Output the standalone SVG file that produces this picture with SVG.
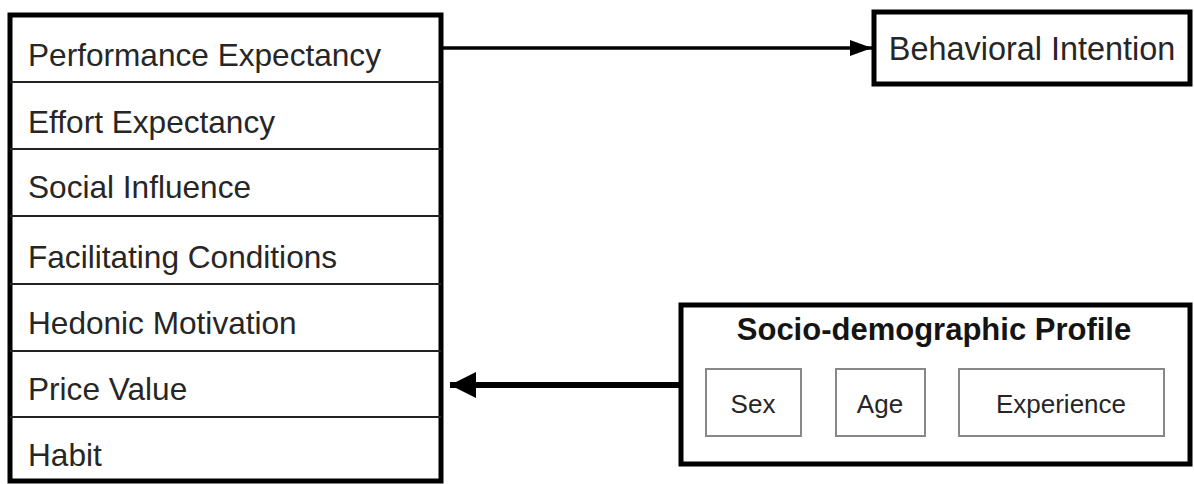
<svg xmlns="http://www.w3.org/2000/svg" width="1194" height="484" viewBox="0 0 1194 484">
<style>
.t{font-family:"Liberation Sans",Arial,sans-serif;font-size:31.6px;fill:#262626}
.bi{font-size:32.4px}
.b{font-family:"Liberation Sans",Arial,sans-serif;font-size:31px;font-weight:bold;fill:#141414;text-anchor:middle}
.s{font-family:"Liberation Sans",Arial,sans-serif;font-size:26px;fill:#262626;text-anchor:middle}
.box{fill:#fff;stroke:#000;stroke-width:5}
.div{stroke:#222;stroke-width:2}
.sub{fill:#fff;stroke:#888;stroke-width:2}
</style>
<defs>
<marker id="a1" markerUnits="userSpaceOnUse" markerWidth="22" markerHeight="16" refX="22" refY="8" orient="auto"><path d="M0,0 L22,8 L0,16 Z" fill="#000"/></marker>
<marker id="a2" markerUnits="userSpaceOnUse" markerWidth="26" markerHeight="26" refX="26" refY="13" orient="auto"><path d="M0,0 L26,13 L0,26 Z" fill="#000"/></marker>
</defs>
<rect width="1194" height="484" fill="#fff"/>
<g id="constructs">
<rect class="box" x="10" y="15" width="431" height="466"/>
<line class="div" x1="10" y1="82" x2="441" y2="82"/>
<line class="div" x1="10" y1="149" x2="441" y2="149"/>
<line class="div" x1="10" y1="216" x2="441" y2="216"/>
<line class="div" x1="10" y1="284" x2="441" y2="284"/>
<line class="div" x1="10" y1="351" x2="441" y2="351"/>
<line class="div" x1="10" y1="417" x2="441" y2="417"/>
<text class="t" x="28" y="66">Performance Expectancy</text>
<text class="t" x="28" y="133">Effort Expectancy</text>
<text class="t" x="28" y="198">Social Influence</text>
<text class="t" x="28" y="268">Facilitating Conditions</text>
<text class="t" x="28" y="334">Hedonic Motivation</text>
<text class="t" x="28" y="400">Price Value</text>
<text class="t" x="28" y="466">Habit</text>
</g>
<g id="behavioral-intention">
<rect class="box" x="874" y="12" width="316" height="72"/>
<text class="t bi" x="1032" y="60" text-anchor="middle">Behavioral Intention</text>
</g>
<g id="socio-demographic">
<rect class="box" x="681" y="305" width="509" height="159"/>
<text class="b" x="934" y="340">Socio-demographic Profile</text>
<rect class="sub" x="706" y="369" width="95" height="67"/>
<rect class="sub" x="836" y="369" width="89" height="67"/>
<rect class="sub" x="959" y="369" width="205" height="67"/>
<text class="s" x="753" y="413">Sex</text>
<text class="s" x="880" y="413">Age</text>
<text class="s" x="1061" y="413">Experience</text>
</g>
<g id="connectors">
<line x1="443" y1="48" x2="872" y2="48" stroke="#000" stroke-width="3.5" marker-end="url(#a1)"/>
<line x1="679" y1="385" x2="450" y2="385" stroke="#000" stroke-width="6" marker-end="url(#a2)"/>
</g>
</svg>
